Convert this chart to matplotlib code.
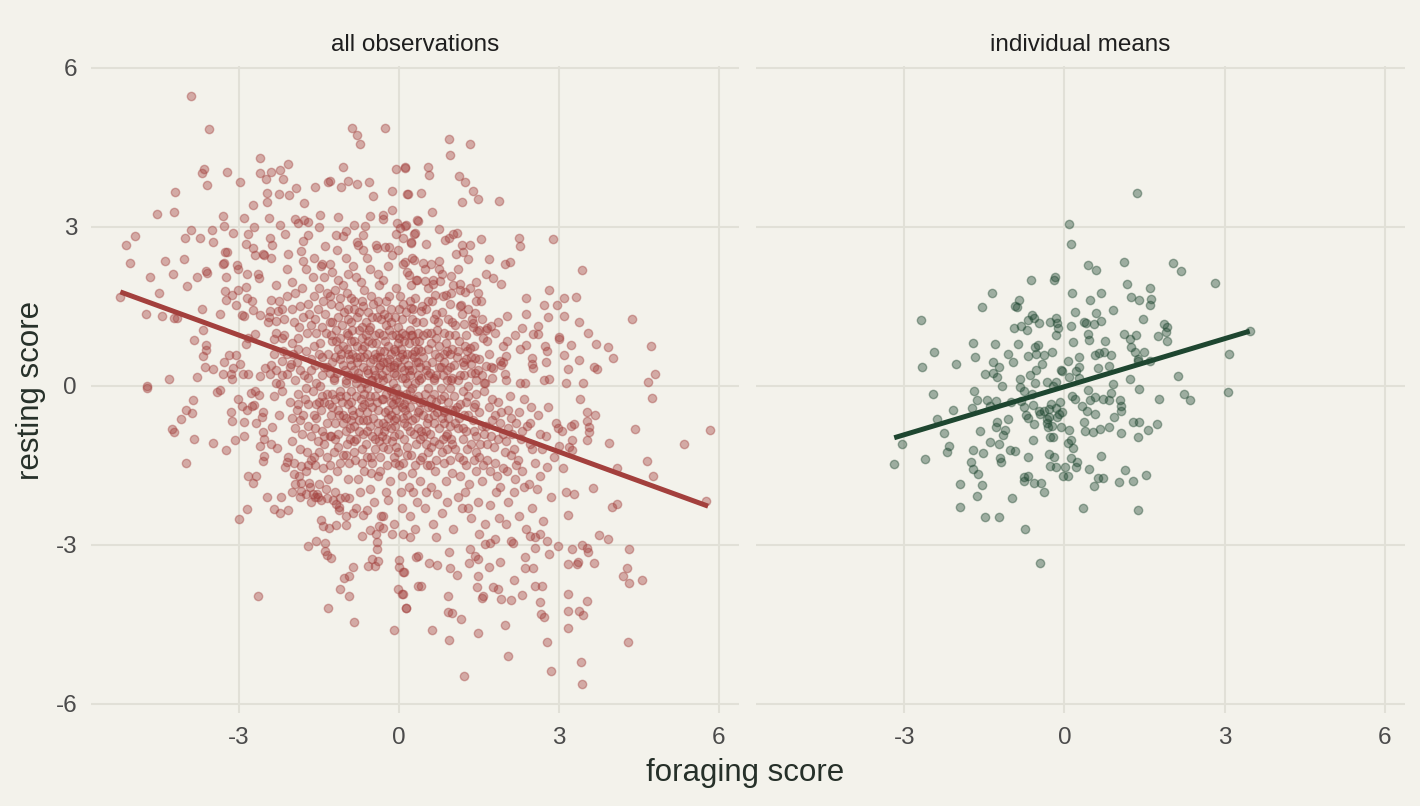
import numpy as np
import matplotlib.pyplot as plt

# ------------------------------------------------------------------
# Data
# ------------------------------------------------------------------
panel_titles = ["all observations", "individual means"]
x_label = "foraging score"
y_label = "resting score"
x_ticks = [-3, 0, 3, 6]
y_ticks = [-6, -3, 0, 3, 6]

# all observations: sparse outer points, upper-left area
obs_upper_left = [
    (-3.91, 5.46), (-3.56, 4.84), (-0.88, 4.86), (-0.79, 4.72), (-0.73, 4.56), (-0.26, 4.86),
    (-2.61, 4.30), (-2.08, 4.19), (-3.66, 4.09), (-3.70, 4.02), (-3.22, 4.03), (-3.61, 3.79),
    (-2.60, 4.01), (-2.41, 4.04), (-2.23, 4.06), (-2.50, 3.89), (-2.17, 3.89), (-2.98, 3.85),
    (-1.05, 4.12), (-0.06, 4.09), (0.11, 4.12), (-4.21, 3.66), (-2.48, 3.63), (-2.26, 3.61),
    (-2.06, 3.59), (-1.94, 3.72), (-2.47, 3.46), (-1.79, 3.44), (-1.58, 3.74), (-1.34, 3.84),
    (-1.30, 3.86), (-1.09, 3.74), (-0.96, 3.86), (-0.79, 3.81), (-0.56, 3.84), (-0.48, 3.58),
    (-0.13, 3.67), (0.15, 3.61), (-4.55, 3.23), (-4.23, 3.28), (-2.74, 3.40), (-3.30, 3.21),
    (-2.91, 3.16), (-2.44, 3.17), (-2.24, 3.04), (-1.96, 3.14), (-1.89, 3.06), (-1.78, 3.13),
    (-1.70, 3.09), (-1.49, 3.22), (-1.15, 3.19), (-1.51, 2.99), (-0.84, 3.04), (-0.64, 3.02),
    (-0.55, 3.20), (-0.30, 3.22), (-0.30, 3.14), (-0.14, 3.32), (-0.04, 3.06), (0.34, 3.12),
    (-4.96, 2.82), (-5.12, 2.66), (-5.04, 2.31), (-3.91, 2.94), (-4.01, 2.78), (-3.73, 2.78),
    (-3.51, 2.94), (-3.50, 2.72), (-3.29, 3.02), (-3.12, 2.88), (-2.84, 2.86), (-2.72, 2.99),
    (-2.43, 2.78), (-2.38, 2.66), (-2.88, 2.67), (-2.74, 2.59), (-2.14, 2.86), (-1.84, 2.54),
    (-1.81, 2.73), (-1.71, 2.84), (-2.56, 2.49), (-2.54, 2.47), (-2.71, 2.46), (-2.08, 2.49),
    (-1.38, 2.63), (-1.18, 2.84), (-1.05, 2.82), (-1.17, 2.56), (-1.00, 2.91), (-0.79, 2.72),
    (-0.77, 2.66), (-0.68, 2.84), (-0.68, 2.56), (-0.44, 2.66), (-0.41, 2.59), (-0.26, 2.62),
    (-0.18, 2.62), (-0.06, 2.87), (0.01, 2.97), (0.12, 3.02), (0.07, 2.78), (0.22, 2.69),
    (0.29, 2.87), (-0.13, 2.47), (-0.02, 2.56), (-4.39, 2.36), (-4.03, 2.39), (-4.24, 2.11),
    (-4.68, 2.06), (-4.50, 1.75), (-3.97, 1.88), (-3.79, 2.06), (-3.63, 2.16), (-3.61, 2.13),
    (-3.27, 2.52), (-3.23, 2.53), (-3.30, 2.30), (-3.28, 2.32), (-3.24, 2.06), (-3.04, 2.27),
    (-3.02, 2.21), (-2.86, 2.11), (-2.63, 2.03), (-2.64, 2.11), (-3.26, 1.78), (-3.24, 1.61),
    (-3.02, 1.81), (-3.13, 1.72), (-2.88, 1.86), (-2.86, 1.66), (-2.76, 1.59), (-3.69, 1.44),
    (-3.35, 1.36), (-3.05, 1.52), (-2.95, 1.34), (-2.91, 1.31), (-2.74, 1.43), (-2.61, 1.34),
    (-2.41, 1.61), (-2.43, 1.41), (-2.44, 1.29), (-2.27, 1.41), (-2.30, 1.22), (-4.74, 1.35),
    (-4.44, 1.31), (-4.23, 1.27), (-4.16, 1.27), (-5.24, 1.67), (-3.68, 1.06), (-3.85, 0.86),
    (-3.63, 0.76), (-3.63, 0.67), (-3.68, 0.56), (-3.64, 0.36), (-3.49, 0.31), (-3.29, 0.45),
    (-3.31, 0.23), (-3.79, 0.16), (-4.31, 0.12), (-4.72, -0.01), (-3.19, 0.58), (-3.05, 0.58),
    (-3.11, 0.34), (-2.98, 0.41), (-3.16, 0.22), (-3.14, 0.12), (-2.93, 0.22), (-2.84, 0.22),
    (-2.88, 0.78), (-2.83, 0.91), (-2.71, 0.98), (-2.51, 0.33), (-2.61, 0.19), (-2.43, 0.23),
    (-2.35, 0.88), (-2.19, 0.91), (-2.18, 0.66), (-1.99, 0.59), (-2.19, 0.47), (-2.03, 0.41),
    (-2.11, 0.23), (-2.30, 0.06), (-2.24, 0.03),
]

# all observations: sparse outer points, upper-right area
obs_upper_right = [
    (0.94, 4.65), (1.33, 4.55), (0.96, 4.36), (0.12, 4.11), (0.55, 4.13), (0.57, 3.98),
    (1.12, 3.96), (1.24, 3.85), (1.38, 3.68), (1.49, 3.53), (1.19, 3.47), (1.88, 3.48),
    (0.16, 3.61), (0.41, 3.63), (0.61, 3.28), (0.36, 3.11), (0.14, 3.03), (0.30, 2.89),
    (0.23, 2.72), (0.75, 2.96), (0.50, 2.68), (0.86, 2.75), (0.94, 2.78), (1.02, 2.86),
    (1.08, 2.88), (1.19, 2.66), (1.34, 2.66), (1.06, 2.49), (1.20, 2.53), (1.29, 2.39),
    (1.54, 2.76), (2.26, 2.79), (2.27, 2.63), (2.89, 2.76), (1.69, 2.39), (1.98, 2.29),
    (2.09, 2.34), (3.43, 2.18), (1.63, 2.11), (1.76, 2.04), (1.91, 1.91), (0.97, 2.07),
    (0.75, 2.36), (0.75, 2.20), (0.45, 2.31), (0.28, 2.38), (0.11, 2.34), (1.15, 1.91),
    (1.24, 1.77), (1.49, 1.74), (1.45, 1.59), (2.38, 1.66), (2.82, 1.80), (2.72, 1.52),
    (2.96, 1.52), (3.09, 1.65), (3.33, 1.67), (2.38, 1.36), (2.02, 1.31), (2.80, 1.29),
    (3.09, 1.31), (3.37, 1.20), (4.37, 1.25), (3.55, 0.99), (3.69, 0.79), (3.92, 0.73),
    (4.01, 0.52), (4.72, 0.75), (4.81, 0.23), (4.68, 0.08), (3.00, 0.92), (3.01, 0.89),
    (3.23, 0.76), (3.09, 0.58), (3.38, 0.49), (3.17, 0.31), (3.66, 0.36), (3.71, 0.31),
    (3.46, 0.06), (3.14, 0.05), (2.30, 1.09), (2.18, 0.96), (2.27, 0.69), (2.39, 0.76),
    (2.61, 1.13), (2.52, 0.97), (2.61, 0.97), (2.74, 0.75), (2.77, 0.66), (2.49, 0.52),
    (2.49, 0.41), (2.52, 0.33), (2.75, 0.44), (2.72, 0.11), (2.81, 0.13), (2.27, 0.06),
    (2.36, 0.06), (2.03, 0.84), (1.96, 0.75), (1.89, 0.47), (1.92, 0.39), (2.01, 0.56),
    (1.99, 0.22), (1.66, 0.84), (1.81, 0.99), (1.63, 0.38), (1.77, 0.34), (1.73, 1.13),
    (1.66, 1.09), (1.51, 1.06), (1.47, 1.04), (1.43, 1.38), (1.37, 1.25), (1.17, 1.53),
    (1.22, 1.16), (1.38, 1.19), (1.34, 0.72), (1.43, 0.53), (1.35, 0.41), (1.55, 0.21),
    (1.62, 0.06), (0.98, 1.75), (0.89, 1.72), (0.67, 1.72), (0.54, 1.59), (0.42, 1.41),
    (0.23, 1.47), (0.76, 1.97), (0.63, 1.91), (0.48, 1.97), (0.32, 2.00), (0.19, 2.09),
]

# all observations: sparse outer points, lower-left area
obs_lower_left = [
    (-4.72, -0.04), (-3.87, -0.27), (-3.99, -0.46), (-3.89, -0.52), (-4.09, -0.62),
    (-4.26, -0.81), (-4.23, -0.88), (-3.84, -1.01), (-3.49, -1.08), (-3.24, -1.21),
    (-3.08, -1.03), (-3.99, -1.45), (-3.41, -0.11), (-3.36, -0.08), (-3.03, -0.25),
    (-2.94, -0.39), (-2.86, -0.46), (-2.75, -0.39), (-2.73, -0.36), (-3.16, -0.49),
    (-3.13, -0.66), (-2.91, -0.69), (-2.91, -0.94), (-2.68, -0.71), (-2.55, -0.49),
    (-2.57, -0.59), (-2.77, -0.13), (-2.70, -0.10), (-2.63, -0.17), (-2.61, -1.13),
    (-2.56, -0.88), (-2.54, -1.01), (-2.38, -0.78), (-2.40, -1.09), (-2.29, -1.17),
    (-2.53, -1.33), (-2.56, -1.42), (-2.84, -1.71), (-2.69, -1.71), (-2.74, -1.83),
    (-2.08, -1.35), (-2.14, -1.53), (-2.11, -1.44), (-2.47, -2.10), (-2.22, -2.10),
    (-2.86, -2.32), (-3.01, -2.52), (-2.34, -2.33), (-2.24, -2.39), (-2.08, -2.35),
    (-2.00, -2.01), (-1.95, -1.86), (-1.83, -1.83), (-1.83, -1.99), (-1.86, -2.09),
    (-1.69, -1.83), (-1.74, -2.05), (-1.61, -2.05), (-1.54, -2.05), (-1.98, -1.67),
    (-1.83, -1.52), (-1.70, -1.49), (-1.58, -1.49), (-1.66, -2.20), (-1.52, -2.09),
    (-1.47, -2.15), (-1.36, -2.12), (-1.23, -2.15), (-1.18, -2.23), (-1.11, -2.12),
    (-1.13, -2.28), (-0.94, -2.12), (-0.67, -2.44), (-1.46, -2.53), (-1.42, -2.65),
    (-1.31, -2.68), (-1.18, -2.63), (-1.00, -2.63), (-1.70, -3.03), (-1.55, -2.93),
    (-1.38, -2.96), (-1.39, -3.11), (-1.36, -3.19), (-1.27, -3.24), (-0.69, -2.83),
    (-0.55, -2.72), (-0.43, -2.80), (-0.30, -2.68), (-0.42, -2.94), (-0.42, -3.08),
    (-0.51, -3.27), (-0.59, -3.39), (-0.46, -3.39), (-0.40, -3.30), (-0.86, -3.41),
    (-1.04, -3.63), (-0.93, -3.59), (-1.11, -3.83), (-0.94, -3.96), (-1.34, -4.19),
    (-0.85, -4.46), (-2.65, -3.96), (-0.09, -4.60), (0.00, -3.28), (0.00, -3.41),
    (0.09, -3.52), (-0.02, -3.83), (0.06, -3.93), (0.14, -4.19), (0.32, -3.22),
    (0.36, -3.78), (-0.14, -2.80), (0.08, -2.80), (0.20, -2.86), (-0.38, -2.64),
    (-0.30, -2.46), (-0.99, -2.46), (-0.86, -2.39),
]

# all observations: sparse outer points, lower-right area
obs_lower_right = [
    (3.40, -0.25), (4.74, -0.23), (3.53, -0.50), (3.68, -0.55), (3.53, -0.67), (3.56, -0.78),
    (3.57, -0.87), (3.52, -1.03), (2.98, -0.79), (3.06, -0.85), (3.22, -0.76), (3.29, -0.73),
    (3.25, -1.03), (3.19, -1.16), (3.24, -1.22), (3.01, -1.13), (4.43, -0.81), (3.94, -1.08),
    (5.34, -1.10), (5.83, -0.84), (4.66, -1.41), (4.76, -1.71), (4.09, -1.55), (5.76, -2.17),
    (3.07, -1.55), (2.78, -1.54), (3.64, -1.93), (3.13, -2.00), (3.28, -2.05), (3.18, -2.43),
    (3.99, -2.28), (4.09, -2.22), (3.75, -2.81), (3.92, -2.88), (4.32, -3.08), (4.27, -3.43),
    (4.21, -3.58), (4.32, -3.71), (4.56, -3.66), (3.43, -3.00), (3.52, -3.05), (3.55, -3.13),
    (3.25, -3.08), (3.36, -3.33), (3.34, -3.36), (3.65, -3.34), (2.98, -3.03), (2.81, -3.18),
    (3.18, -3.36), (3.17, -3.93), (3.52, -4.05), (3.17, -4.24), (3.37, -4.24), (3.46, -4.33),
    (3.17, -4.56), (4.29, -4.83), (3.41, -5.21), (3.44, -5.63), (2.77, -4.84), (2.86, -5.38),
    (2.05, -5.09), (1.22, -5.48), (1.49, -4.66), (1.99, -4.51), (0.94, -4.80), (0.62, -4.61),
    (0.91, -4.27), (1.00, -4.29), (1.16, -4.39), (0.91, -3.97), (0.14, -4.19), (0.07, -3.93),
    (0.41, -3.78), (1.46, -3.80), (1.56, -4.00), (1.58, -3.96), (1.77, -3.80), (1.85, -3.83),
    (1.91, -4.02), (2.11, -4.04), (2.31, -3.94), (2.64, -4.07), (2.67, -4.31), (2.73, -4.36),
    (2.55, -3.78), (2.69, -3.77), (2.15, -3.66), (1.49, -3.59), (1.09, -3.57), (0.96, -3.44),
    (0.56, -3.35), (0.72, -3.38), (1.32, -3.34), (1.49, -3.27), (1.69, -3.41), (1.89, -3.33),
    (2.36, -3.22), (2.36, -3.43), (2.51, -3.44), (2.14, -2.96), (2.55, -3.05), (0.35, -3.21),
    (0.94, -3.14), (0.08, -3.52), (1.71, -2.96), (1.62, -2.98), (1.80, -2.89), (1.33, -3.08),
    (1.42, -3.21), (2.11, -2.92), (2.55, -2.86), (2.77, -2.92), (2.64, -2.80), (2.46, -2.83),
]

# all observations: dense central cloud (estimated)
obs_core = [
    # upper-left of centre
    (-2.30, 1.90), (-2.10, 2.20), (-1.95, 1.75), (-1.80, 2.35), (-1.70, 1.55), (-1.62, 2.05),
    (-1.50, 1.85), (-1.45, 2.30), (-1.38, 1.35), (-1.30, 1.70), (-1.25, 2.15), (-1.18, 1.05),
    (-1.12, 1.50), (-1.05, 1.90), (-1.00, 2.40), (-0.95, 1.25), (-0.90, 1.65), (-0.85, 0.85),
    (-0.80, 2.05), (-0.75, 1.40), (-0.70, 1.10), (-0.65, 1.80), (-0.60, 0.60), (-0.55, 2.20),
    (-0.50, 1.30), (-0.45, 0.95), (-0.40, 1.60), (-0.35, 0.40), (-0.30, 2.00), (-0.25, 1.15),
    (-0.20, 0.75), (-0.15, 1.45), (-0.10, 0.25), (-0.05, 1.85), (0.00, 0.90), (0.05, 1.25),
    (0.10, 0.50), (0.15, 2.15), (0.20, 1.05), (0.25, 0.30), (0.30, 1.65), (0.35, 0.70),
    (-2.45, 1.20), (-2.35, 0.60), (-2.20, 1.45), (-2.15, 0.95), (-2.05, 0.35), (-1.98, 1.20),
    (-1.90, 0.70), (-1.85, 1.50), (-1.78, 0.20), (-1.72, 1.00), (-1.66, 0.50), (-1.58, 1.25),
    (-1.55, 0.05), (-1.48, 0.80), (-1.42, 1.60), (-1.35, 0.35), (-1.28, 0.95), (-1.22, 0.15),
    (-1.15, 1.30), (-1.08, 0.60), (-1.02, 0.30), (-0.98, 1.75), (-0.92, 0.50), (-0.88, 1.05),
    (-0.82, 0.15), (-0.78, 0.75), (-0.72, 1.95), (-0.68, 0.35), (-0.62, 1.20), (-0.58, 0.85),
    (-0.52, 0.10), (-0.48, 1.55), (-0.42, 0.55), (-0.38, 1.00), (-0.32, 0.20), (-0.28, 1.35),
    (-0.22, 0.45), (-0.18, 1.70), (-0.12, 0.05), (-0.08, 0.65), (-0.02, 1.10), (0.03, 0.35),
    (0.08, 1.55), (0.12, 0.15), (0.18, 0.80), (0.22, 1.90), (0.28, 0.55), (0.32, 1.20),
    (0.38, 0.10), (-2.40, 2.40), (-2.25, 1.60), (-2.00, 1.95), (-1.88, 1.10), (-1.75, 2.20),
    (-1.60, 0.75), (-1.52, 1.45), (-1.40, 2.05), (-1.33, 0.60), (-1.20, 1.80), (-1.10, 0.90),
    (-1.03, 1.40), (-0.97, 0.70), (-0.87, 2.25), (-0.77, 0.25), (-0.67, 1.50), (-0.57, 1.05),
    (-0.47, 0.30), (-0.37, 1.90), (-0.27, 0.85), (-0.17, 0.35), (-0.07, 1.30), (0.04, 0.70),
    (0.14, 1.40), (0.24, 0.95), (0.34, 2.00), (-1.65, 0.30), (-1.45, 1.10), (-1.25, 0.45),
    (-1.15, 2.00), (-0.95, 0.95), (-0.85, 1.45), (-0.73, 0.55), (-0.63, 0.05), (-0.53, 1.70),
    (-0.43, 0.80), (-0.33, 1.25), (-0.23, 0.15), (-0.13, 0.95), (-0.03, 0.45), (0.07, 2.30),
    (0.17, 0.40), (0.27, 1.45), (0.37, 0.85), (-1.92, 0.45), (-1.82, 1.85), (-1.69, 1.35),
    (-1.57, 0.40), (-1.47, 2.25), (-1.37, 1.00), (-1.27, 1.55), (-1.17, 0.25), (-1.07, 1.15),
    (-0.99, 0.10), (-0.89, 0.60), (-0.79, 1.30), (-0.69, 0.90), (-0.59, 1.40), (-0.49, 0.50),
    (-0.39, 0.15), (-0.29, 0.65), (-0.19, 1.05), (-0.09, 0.40), (0.01, 1.70), (0.11, 0.95),
    (0.21, 0.20), (0.31, 0.45),
    # upper-right of centre
    (0.45, 1.20), (0.50, 0.40), (0.55, 1.85), (0.60, 0.80), (0.65, 0.15), (0.70, 1.35),
    (0.75, 0.55), (0.80, 2.10), (0.85, 1.00), (0.90, 0.30), (0.95, 1.55), (1.00, 0.70),
    (1.05, 1.15), (1.10, 0.10), (1.15, 1.80), (1.20, 0.45), (1.25, 0.95), (1.30, 1.45),
    (1.35, 0.25), (1.40, 0.75), (1.45, 1.95), (1.50, 0.50), (1.55, 1.25), (1.60, 0.05),
    (0.42, 0.65), (0.48, 2.20), (0.52, 1.00), (0.58, 0.25), (0.62, 1.60), (0.68, 0.60),
    (0.72, 1.05), (0.78, 0.35), (0.82, 1.70), (0.88, 0.80), (0.92, 1.25), (0.98, 0.10),
    (1.02, 1.90), (1.08, 0.55), (1.12, 0.85), (1.18, 1.35), (1.22, 0.20), (1.28, 0.65),
    (1.38, 1.10), (1.48, 0.30), (1.58, 0.90), (1.68, 0.60), (1.75, 0.15), (1.85, 1.20),
    (1.95, 0.45), (0.44, 1.50), (0.54, 0.70), (0.64, 2.00), (0.74, 1.20), (0.84, 0.45),
    (0.94, 0.95), (1.04, 0.40), (1.14, 1.50), (1.24, 0.75), (1.34, 1.85), (1.44, 0.10),
    (1.54, 1.60), (1.64, 1.05), (1.72, 0.35),
    # lower-left of centre
    (-2.05, -0.30), (-1.95, -0.80), (-1.90, -0.15), (-1.85, -1.20), (-1.80, -0.55), (-1.75, -1.60),
    (-1.70, -0.35), (-1.65, -0.95), (-1.60, -1.35), (-1.55, -0.60), (-1.50, -1.85), (-1.45, -0.20),
    (-1.40, -1.10), (-1.35, -0.70), (-1.30, -1.50), (-1.25, -0.40), (-1.20, -2.00), (-1.15, -0.90),
    (-1.10, -0.10), (-1.05, -1.30), (-1.00, -0.60), (-0.95, -1.75), (-0.90, -0.30), (-0.85, -1.05),
    (-0.80, -2.30), (-0.75, -0.50), (-0.70, -1.45), (-0.65, -0.15), (-0.60, -0.85), (-0.55, -1.95),
    (-0.50, -0.40), (-0.45, -1.20), (-0.40, -0.70), (-0.35, -1.60), (-0.30, -0.25), (-0.25, -1.00),
    (-0.20, -2.15), (-0.15, -0.55), (-0.10, -1.35), (-0.05, -0.05), (0.00, -0.90), (0.05, -1.70),
    (0.10, -0.35), (0.15, -1.15), (0.20, -2.45), (0.25, -0.65), (0.30, -1.50), (0.35, -0.20),
    (0.40, -1.00), (-2.00, -1.05), (-1.92, -0.45), (-1.82, -0.90), (-1.72, -1.25), (-1.62, -0.10),
    (-1.52, -1.05), (-1.42, -1.55), (-1.32, -0.35), (-1.22, -1.25), (-1.12, -0.55), (-1.02, -2.10),
    (-0.92, -0.80), (-0.82, -1.40), (-0.72, -0.25), (-0.62, -1.10), (-0.52, -1.65), (-0.42, -0.30),
    (-0.32, -0.95), (-0.22, -1.50), (-0.12, -0.20), (-0.02, -1.25), (0.08, -0.60), (0.18, -1.90),
    (0.28, -0.90), (0.38, -0.45), (-1.97, -1.45), (-1.77, -0.25), (-1.67, -1.90), (-1.57, -0.80),
    (-1.47, -0.45), (-1.37, -1.95), (-1.27, -0.95), (-1.17, -1.60), (-1.07, -0.30), (-0.97, -1.10),
    (-0.87, -0.55), (-0.77, -1.75), (-0.67, -0.65), (-0.57, -0.30), (-0.47, -2.20), (-0.37, -1.05),
    (-0.27, -0.50), (-0.17, -1.80), (-0.07, -0.75), (0.03, -2.00), (0.13, -0.15), (0.23, -1.30),
    (0.33, -2.20), (-1.88, -1.70), (-1.58, -2.10), (-1.33, -1.75), (-1.13, -2.35), (-0.93, -1.45),
    (-0.73, -2.00), (-0.53, -1.35), (-0.33, -2.45), (-0.13, -1.05), (0.07, -1.45), (0.27, -2.00),
    (-1.50, -0.30), (-1.20, -0.70), (-0.90, -0.10), (-0.60, -0.50), (-0.30, -0.70), (-0.05, -0.45),
    (0.20, -0.10), (-1.00, -0.85), (-0.70, -1.20), (-0.40, -0.05), (-0.10, -0.95), (0.15, -0.75),
    # lower-right of centre
    (0.45, -0.30), (0.50, -1.10), (0.55, -0.60), (0.60, -1.90), (0.65, -0.15), (0.70, -1.40),
    (0.75, -0.80), (0.80, -2.40), (0.85, -0.45), (0.90, -1.20), (0.95, -0.05), (1.00, -1.65),
    (1.05, -0.70), (1.10, -2.10), (1.15, -0.35), (1.20, -1.00), (1.25, -1.50), (1.30, -0.20),
    (1.35, -2.50), (1.40, -0.85), (1.45, -1.25), (1.50, -0.50), (1.55, -1.80), (1.60, -0.10),
    (1.65, -1.10), (1.70, -2.25), (1.75, -0.65), (1.80, -1.45), (1.85, -0.30), (1.90, -1.90),
    (1.95, -0.90), (2.00, -2.60), (2.05, -0.45), (2.10, -1.30), (2.15, -2.00), (2.20, -0.70),
    (2.30, -1.60), (2.35, -0.25), (2.45, -1.10), (2.50, -2.30), (2.60, -0.55), (2.65, -1.70),
    (2.75, -0.95), (2.85, -2.10), (2.90, -1.35), (0.42, -0.85), (0.52, -1.50), (0.62, -0.40),
    (0.72, -2.05), (0.82, -1.00), (0.92, -0.60), (1.02, -2.70), (1.12, -1.35), (1.22, -0.55),
    (1.32, -1.85), (1.42, -0.35), (1.52, -1.10), (1.62, -2.60), (1.72, -0.95), (1.82, -2.00),
    (1.92, -0.50), (2.02, -1.60), (2.12, -0.90), (2.25, -2.45), (2.40, -0.75), (2.55, -1.45),
    (2.70, -2.55), (2.80, -0.40), (0.48, -2.30), (0.58, -0.90), (0.68, -1.60), (0.78, -0.25),
    (0.88, -1.80), (0.98, -1.00), (1.08, -0.40), (1.18, -2.30), (1.28, -1.20), (1.38, -0.65),
    (1.48, -2.20), (1.58, -1.50), (1.68, -0.40), (1.78, -1.15), (1.88, -2.50), (1.98, -1.25),
    (2.08, -0.20), (2.18, -1.75), (2.28, -1.00), (2.38, -2.70), (2.48, -0.40), (2.58, -1.95),
    (2.68, -1.20), (2.95, -0.70), (0.44, -1.35), (0.64, -2.60), (0.84, -1.45), (1.04, -0.20),
    (1.24, -2.00), (1.44, -1.60), (1.64, -0.75), (1.84, -1.70), (2.04, -2.20), (2.24, -1.40),
    (2.44, -1.85), (2.64, -0.90),
    # very centre
    (-1.45, 0.55), (-1.35, -0.15), (-1.25, 1.20), (-1.15, -0.45), (-1.05, 0.75), (-0.95, 0.20),
    (-0.85, -0.75), (-0.75, 1.05), (-0.65, -0.35), (-0.55, 0.45), (-0.45, -1.00), (-0.35, 0.65),
    (-0.25, -0.15), (-0.15, 1.20), (-0.05, -0.60), (0.05, 0.15), (0.15, -1.30), (0.25, 0.60),
    (0.35, -0.50), (0.45, 0.95), (0.55, -0.05), (0.65, -1.05), (0.75, 0.35), (0.85, -0.70),
    (0.95, 0.60), (1.05, -1.20), (1.15, 0.20), (1.25, -0.30), (1.35, 0.55), (1.45, -0.95),
    (-1.40, -0.95), (-1.30, 0.25), (-1.20, -0.25), (-1.10, 0.50), (-1.00, -1.30), (-0.90, 0.40),
    (-0.80, -0.20), (-0.70, 0.70), (-0.60, -1.35), (-0.50, 0.10), (-0.40, -0.45), (-0.30, 0.95),
    (-0.20, -1.20), (-0.10, 0.35), (0.00, -0.30), (0.10, 0.85), (0.20, -0.85), (0.30, 0.05),
    (0.40, -1.40), (0.50, 0.30), (0.60, -0.25), (0.70, 0.90), (0.80, -1.25), (0.90, 0.10),
    (1.00, -0.45), (1.10, 0.65), (1.20, -0.80), (1.30, 0.00), (1.40, -1.40), (-1.48, 0.00),
    (-1.18, 0.85), (-0.88, -0.45), (-0.58, 0.25), (-0.28, -0.85), (0.02, 0.55), (0.32, -1.10),
    (0.62, 0.45), (0.92, -0.30), (1.22, 0.40), (-1.28, -0.55), (-0.98, 1.00), (-0.68, -0.90),
    (-0.38, 0.35), (-0.08, -1.45), (0.22, 0.95), (0.52, -0.70), (0.82, 0.20), (1.12, -0.60),
    (1.42, 0.25), (-0.78, 0.45), (-0.48, -0.60), (-0.18, 0.50), (0.12, -0.45), (0.42, 0.15),
    (0.72, -0.50), (-0.62, 0.95), (-0.32, -0.25), (-0.02, 0.80), (0.28, -0.25), (0.58, -1.50),
    (-0.92, -1.00), (-1.22, 0.10), (0.88, -0.95), (0.18, 0.30), (-0.42, 1.30), (-0.12, -0.35),
    (0.48, -0.15), (-0.72, -0.05), (0.78, -0.05),
]

# all observations: further points filling the dense middle (estimated)
obs_core_extra = [
    (-1.90, 0.90), (-1.80, 1.30), (-1.70, 0.15), (-1.60, 1.70), (-1.50, 0.60), (-1.40, 0.35),
    (-1.30, 1.20), (-1.20, 0.55), (-1.10, 1.65), (-1.00, 0.05), (-0.90, 1.20), (-0.80, 0.55),
    (-0.70, 1.60), (-0.60, 0.30), (-0.50, 0.80), (-0.40, 2.10), (-0.30, 0.45), (-0.20, 1.30),
    (-0.10, 0.70), (0.00, 1.45), (0.10, 0.30), (0.20, 1.60), (0.30, 0.85), (0.40, 0.35),
    (0.50, 1.45), (0.60, 1.00), (0.70, 0.20), (0.80, 1.40), (0.90, 0.65), (1.00, 1.20),
    (-1.85, -0.65), (-1.75, -0.05), (-1.65, -1.40), (-1.55, -0.35), (-1.45, -0.85), (-1.35, -1.35),
    (-1.25, -0.15), (-1.15, -1.15), (-1.05, -0.55), (-0.95, -0.35), (-0.85, -1.25), (-0.75, -0.85),
    (-0.65, -1.60), (-0.55, -0.75), (-0.45, -0.20), (-0.35, -1.35), (-0.25, -0.75), (-0.15, -0.30),
    (-0.05, -1.15), (0.05, -0.40), (0.15, -0.55), (0.25, -1.65), (0.35, -0.80), (0.45, -0.55),
    (0.55, -1.25), (0.65, -0.55), (0.75, -1.10), (0.85, -0.20), (0.95, -1.40), (1.05, -0.45),
    (1.15, -1.70), (1.25, -0.85), (1.35, -1.10), (1.45, -0.15), (1.55, -0.75), (1.65, -1.40),
    (1.75, -0.25), (1.85, -1.00), (1.95, -1.55), (2.05, -0.80), (2.15, -1.20), (2.25, -0.50),
    (2.35, -1.90), (2.45, -0.70), (-2.20, 0.20), (-2.10, 1.70), (-2.00, 0.80), (-1.95, 0.10),
    (-2.30, 1.00), (-2.15, 1.25), (-2.25, -0.55), (-2.35, -0.20), (-2.40, 0.40), (-2.00, -0.60),
    (-0.95, 2.10), (-0.60, 2.40), (-1.30, 2.30), (-0.20, 2.25), (0.25, 2.40), (-1.60, 2.40),
    (0.60, 2.30), (1.10, 2.20), (0.05, -2.30), (-0.25, -2.00), (0.50, -2.00), (0.90, -2.20),
    (-0.60, -2.35), (1.30, -2.30), (0.30, -2.70), (-0.10, -2.60), (0.70, -2.85), (1.50, -2.80),
    (-0.50, -0.95), (-0.20, -0.45), (0.10, -0.70), (0.40, -0.30), (-0.80, 0.05), (-1.10, -0.20),
    (0.65, 0.10), (0.95, -0.75), (-0.35, 0.55), (-0.05, 0.20), (0.25, -0.05), (-0.65, 0.55),
    (0.55, -0.40), (-0.95, 0.60), (1.20, -0.10), (-0.15, -0.10), (-0.30, 0.10), (0.00, -0.15),
    (-0.55, -0.20), (0.35, 0.45), (-0.85, 0.30), (0.85, -0.50), (-0.40, -0.85), (0.15, 0.05),
    (-1.75, 0.65), (-1.55, 1.00), (-1.35, 1.75), (-1.15, 0.70), (-0.95, 1.45), (-0.75, 0.15),
    (-0.55, 1.10), (-0.35, 1.45), (-0.15, 0.60), (0.05, 1.00), (0.25, 1.25), (0.45, 0.55),
    (0.65, 1.25), (0.85, 0.60), (1.05, 0.95), (1.25, 0.50), (-1.85, 0.30), (-1.65, 1.15),
    (-1.45, 0.20), (-1.25, 0.85), (-1.05, 0.40), (-0.85, 1.60), (-0.65, 0.75), (-0.45, 0.20),
    (-0.25, 1.60), (-0.05, 0.95), (0.15, 0.60), (0.35, 1.00), (0.55, 0.20), (0.75, 0.75),
    (0.95, 0.35), (-1.70, -0.75), (-1.50, -1.25), (-1.30, -0.95), (-1.10, -1.45), (-0.90, -0.65),
    (-0.70, -0.40), (-0.50, -1.45), (-0.30, -1.15), (-0.10, -0.65), (0.10, -1.00), (0.30, -0.60),
    (0.50, -0.85), (0.70, -0.30), (0.90, -0.90), (1.10, -0.80), (1.30, -0.55), (1.50, -1.35),
    (1.70, -1.60), (1.90, -0.70), (-1.60, -0.55), (-1.40, -0.30), (-1.20, -1.00), (-1.00, -0.20),
    (-0.80, -1.00), (-0.60, -0.05), (-0.40, -1.70), (-0.20, -0.60), (0.00, -1.50), (0.20, -0.40),
    (0.40, -1.80), (0.60, -1.15), (0.80, -0.60), (1.00, -1.10), (1.20, -1.40), (1.40, -0.40),
    (1.60, -0.90), (1.80, -0.55), (2.00, -1.05), (-2.10, 0.60), (-2.20, -0.10), (-2.30, 0.30),
    (-1.90, -0.35), (-2.00, 1.45), (2.10, -0.60), (2.20, -1.50), (2.30, -0.85), (2.50, -1.20),
    (2.00, 0.10), (-0.45, 0.60), (-0.25, 0.30), (-0.05, -0.25), (0.15, -0.25), (0.35, 0.20),
    (-0.60, -0.65), (-0.15, -0.80), (0.05, 0.60), (0.65, -0.70), (-0.90, 0.85), (1.00, 0.15),
    (-1.05, -0.70), (0.45, -0.95), (-0.75, -0.65), (0.30, 0.65),
]

# individual means
means_points = [
    (1.36, 3.64), (0.09, 3.05), (0.13, 2.68), (0.44, 2.28), (0.59, 2.19), (1.11, 2.34),
    (2.04, 2.31), (2.18, 2.16), (2.82, 1.93), (-0.63, 1.99), (-0.18, 2.05), (-0.19, 1.99),
    (-1.36, 1.75), (-1.54, 1.48), (-0.85, 1.62), (-0.93, 1.51), (-0.89, 1.49), (0.14, 1.74),
    (0.48, 1.61), (0.69, 1.74), (1.17, 1.91), (1.24, 1.67), (1.40, 1.62), (1.61, 1.84),
    (1.63, 1.63), (1.61, 1.52), (0.91, 1.42), (0.19, 1.39), (0.59, 1.37), (-2.69, 1.24),
    (-0.61, 1.34), (-0.57, 1.28), (-0.48, 1.19), (-0.69, 1.24), (-0.81, 1.13), (-0.94, 1.08),
    (-0.71, 1.06), (-0.27, 1.20), (-0.16, 1.27), (-0.14, 1.19), (-0.12, 1.09), (0.12, 1.13),
    (0.37, 1.21), (0.41, 1.18), (0.55, 1.16), (0.68, 1.23), (1.48, 1.25), (1.86, 1.17),
    (1.93, 1.11), (1.91, 1.01), (1.75, 0.93), (1.93, 0.84), (1.12, 0.98), (1.22, 0.89),
    (1.34, 0.96), (-0.16, 0.95), (0.44, 0.97), (0.46, 0.86), (0.16, 0.82), (0.76, 0.84),
    (1.24, 0.73), (3.47, 1.04), (3.08, 0.59), (3.07, -0.11), (-1.71, 0.81), (-1.31, 0.78),
    (-0.87, 0.79), (-0.56, 0.74), (-0.49, 0.77), (-2.44, 0.64), (-1.68, 0.55), (-1.06, 0.59),
    (-0.68, 0.57), (-0.53, 0.59), (-0.38, 0.58), (-0.24, 0.64), (0.28, 0.54), (0.57, 0.58),
    (0.65, 0.61), (0.74, 0.64), (0.88, 0.58), (1.32, 0.64), (1.49, 0.64), (1.38, 0.50),
    (1.38, 0.46), (-2.67, 0.35), (-2.04, 0.41), (-1.34, 0.44), (-0.97, 0.44), (-1.23, 0.35),
    (-1.49, 0.22), (-1.34, 0.24), (-1.26, 0.16), (-0.42, 0.41), (-0.54, 0.29), (-0.64, 0.21),
    (0.06, 0.47), (-0.06, 0.29), (-0.04, 0.27), (0.28, 0.36), (0.21, 0.28), (0.62, 0.34),
    (0.83, 0.37), (0.09, 0.16), (1.61, 0.47), (2.13, 0.19), (1.23, 0.13), (-0.84, 0.13),
    (-1.18, 0.00), (-0.33, 0.08), (-0.16, 0.08), (-0.21, -0.01), (0.90, 0.03), (0.88, -0.13),
    (1.40, -0.06), (-2.47, -0.15), (-1.69, -0.09), (-0.75, -0.09), (-0.60, -0.16), (-0.84, -0.03),
    (0.44, -0.08), (0.48, -0.26), (0.14, -0.19), (0.19, -0.25), (0.58, -0.21), (0.73, -0.25),
    (0.83, -0.27), (1.04, -0.26), (1.78, -0.24), (2.24, -0.16), (2.36, -0.27), (-1.63, -0.26),
    (-1.45, -0.26), (-1.28, -0.28), (-1.74, -0.41), (-2.09, -0.46), (-1.01, -0.30), (-1.40, -0.38),
    (-0.59, -0.36), (-0.82, -0.28), (-0.08, -0.30), (-0.26, -0.34), (-0.15, -0.41), (1.05, -0.38),
    (1.05, -0.48), (0.33, -0.39), (-2.38, -0.62), (-1.06, -0.62), (-0.73, -0.56), (-0.68, -0.60),
    (-0.48, -0.48), (-0.39, -0.48), (-0.29, -0.44), (-0.29, -0.59), (-0.14, -0.59), (-0.04, -0.50),
    (0.43, -0.48), (0.58, -0.54), (0.93, -0.58), (-1.27, -0.68), (-1.29, -0.78), (-1.11, -0.83),
    (-1.15, -0.92), (-1.59, -0.86), (-2.26, -0.89), (-0.57, -0.73), (-0.33, -0.70), (-0.30, -0.78),
    (-0.23, -0.75), (-0.07, -0.77), (0.09, -0.83), (0.36, -0.68), (0.38, -0.86), (0.53, -0.88),
    (0.66, -0.81), (0.84, -0.78), (1.06, -0.89), (1.29, -0.69), (1.39, -0.68), (1.56, -0.84),
    (1.74, -0.72), (1.38, -0.97), (-3.04, -1.09), (-3.19, -1.48), (-2.62, -1.39), (-2.16, -1.13),
    (-2.21, -1.24), (-1.71, -1.21), (-1.52, -1.27), (-1.39, -1.06), (-1.22, -1.09), (-1.03, -1.22),
    (-0.92, -1.23), (-1.20, -1.36), (-1.19, -1.44), (-1.76, -1.44), (-1.72, -1.56), (-1.62, -1.66),
    (-0.59, -1.03), (-0.28, -0.97), (-0.22, -0.96), (0.06, -1.08), (0.16, -1.18), (0.13, -1.03),
    (-0.69, -1.34), (-0.29, -1.28), (-0.19, -1.34), (0.13, -1.36), (0.24, -1.43), (0.69, -1.33),
    (-0.28, -1.52), (-0.16, -1.54), (0.01, -1.54), (-0.03, -1.71), (0.06, -1.70), (0.21, -1.54),
    (0.46, -1.57), (1.13, -1.58), (0.62, -1.74), (0.72, -1.73), (0.55, -1.89), (1.03, -1.82),
    (1.28, -1.79), (1.52, -1.68), (-0.76, -1.72), (-0.69, -1.71), (-0.75, -1.80), (-0.58, -1.84),
    (-0.44, -1.84), (-0.39, -2.01), (-1.96, -1.85), (-1.54, -1.87), (-1.63, -2.08), (-0.98, -2.11),
    (-1.95, -2.28), (-1.48, -2.47), (-1.22, -2.47), (-0.74, -2.70), (0.34, -2.31), (1.38, -2.34),
    (-0.46, -3.34), (-0.45, -0.53), (-0.33, -0.63), (-0.11, -0.53), (-0.75, -0.40), (-0.55, 0.05),
    (0.27, 0.15),
]

# fitted lines (end points)
obs_fit_x = [-5.23, 5.80]
obs_fit_y = [1.77, -2.27]
means_fit_x = [-3.19, 3.47]
means_fit_y = [-0.98, 1.03]

# ------------------------------------------------------------------
# Style
# ------------------------------------------------------------------
BG = '#f3f2eb'
GRID = '#e1e0d7'
OBS_COLOR = '#a3403d'
MEAN_COLOR = '#1e4630'
plt.rcParams['font.family'] = ['Liberation Sans', 'DejaVu Sans']

fig = plt.figure(figsize=(14.2, 8.06), dpi=100, facecolor=BG)
ax1 = fig.add_axes([91 / 1420, 93 / 806, 648 / 1420, 646.5 / 806])
ax2 = fig.add_axes([756 / 1420, 93 / 806, 649 / 1420, 646.5 / 806])

obs_all = np.array(obs_upper_left + obs_upper_right + obs_lower_left
                   + obs_lower_right + obs_core + obs_core_extra)
means_all = np.array(means_points)

panels = [
    (ax1, obs_all, OBS_COLOR, obs_fit_x, obs_fit_y),
    (ax2, means_all, MEAN_COLOR, means_fit_x, means_fit_y),
]

for i, (ax, pts, col, fx, fy) in enumerate(panels):
    ax.set_facecolor(BG)
    ax.scatter(pts[:, 0], pts[:, 1], s=36, color=col, alpha=0.4,
               linewidths=1.0, zorder=2)
    ax.plot(fx, fy, color=col, linewidth=3.6, solid_capstyle='butt', zorder=3)

    ax.set_xlim(-5.78, 6.38)
    ax.set_ylim(-6.17, 6.02)
    ax.set_xticks(x_ticks)
    ax.set_yticks(y_ticks)
    ax.grid(True, color=GRID, linewidth=1.5, zorder=0)
    ax.set_axisbelow(True)
    for sp in ax.spines.values():
        sp.set_visible(False)
    ax.tick_params(length=0, labelsize=17.5, labelcolor='#4b4b4b', pad=10)
    ax.set_title(panel_titles[i], fontsize=17.5, color='#1e1e1e', pad=11.5)
    if i == 1:
        ax.set_yticklabels([])
    else:
        ax.set_yticklabels([str(v) for v in y_ticks])
    ax.set_xticklabels([str(v) for v in x_ticks])

fig.text(745 / 1420, 1 - 773 / 806, x_label, ha='center', va='center',
         fontsize=22.5, color='#263029')
fig.text(31 / 1420, 1 - 390 / 806, y_label, ha='center', va='center',
         rotation=90, fontsize=22.5, color='#263029')

fig.savefig('out.png', dpi=100, facecolor=BG)
